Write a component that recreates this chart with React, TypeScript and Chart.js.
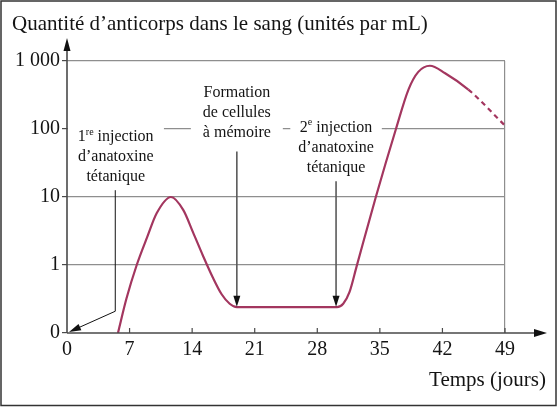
import React, { useEffect, useRef } from "react";
import { Chart, registerables } from "chart.js";

Chart.register(...registerables);

// ---- data (days, level on the axis: 0 -> "0", 1 -> "1", 2 -> "10", 3 -> "100", 4 -> "1 000")
const days = [5.7, 6.66, 7.8, 9.0, 10.03, 11.63, 13.0, 14.1, 15.2, 16.3, 17.3, 18.2, 19.0, 30.2, 30.9, 31.6, 32.4, 34.55, 36.8, 38.2, 39.3, 40.6, 42.3, 44.9, 49];
const levels = [0, 0.51, 1.0, 1.42, 1.76, 2.0, 1.81, 1.48, 1.14, 0.82, 0.57, 0.43, 0.38, 0.38, 0.43, 0.6, 0.98, 2.0, 3.0, 3.58, 3.84, 3.93, 3.82, 3.58, 3.05];
const dashFromDay = 44.9;

const xTicks = [0, 7, 14, 21, 28, 35, 42, 49];
const yTicks = [0, 1, 2, 3, 4];
const yLabels = ["0", "1", "10", "100", "1 000"];

const title = "Quantité d’anticorps dans le sang (unités par mL)";
const xTitle = "Temps (jours)";

const note1 = ["1^re^ injection", "d’anatoxine", "tétanique"];
const note2 = ["Formation", "de cellules", "à mémoire"];
const note3 = ["2^e^ injection", "d’anatoxine", "tétanique"];
// anchors in data space: [day of text centre, level of first line]
const note1Anchor = [5.45, 2.88];
const note2Anchor = [19.0, 3.53];
const note3Anchor = [30.1, 3.015];
// arrows: [day, level start, level end]
const arrow1 = [5.4, 2.1, 0.32];
const arrow2 = [19.0, 2.67, 0.4];
const arrow3 = [30.1, 2.23, 0.4];

const FONT = "'Liberation Serif', 'DejaVu Serif', serif";
const curveColor = "#a3365f";
const gridColor = "#8e8e8e";
const axisColor = "#4a4a4a";
const textColor = "#141414";

function drawRich(ctx: CanvasRenderingContext2D, line: string, cx: number, y: number, size: number) {
  const parts = line.split("^");
  const fonts = parts.map((_, i) => (i % 2 === 1 ? `${Math.round(size * 0.62)}px ${FONT}` : `${size}px ${FONT}`));
  let total = 0;
  const widths = parts.map((p, i) => {
    ctx.font = fonts[i];
    const w = ctx.measureText(p).width;
    total += w;
    return w;
  });
  let x = cx - total / 2;
  parts.forEach((p, i) => {
    ctx.font = fonts[i];
    ctx.fillText(p, x, i % 2 === 1 ? y - size * 0.33 : y);
    x += widths[i];
  });
  return total;
}

function arrowHead(ctx: CanvasRenderingContext2D, x1: number, y1: number, x2: number, y2: number, len: number, half: number) {
  const a = Math.atan2(y2 - y1, x2 - x1);
  ctx.beginPath();
  ctx.moveTo(x2, y2);
  ctx.lineTo(x2 - len * Math.cos(a) + half * Math.sin(a), y2 - len * Math.sin(a) - half * Math.cos(a));
  ctx.lineTo(x2 - len * Math.cos(a) - half * Math.sin(a), y2 - len * Math.sin(a) + half * Math.cos(a));
  ctx.closePath();
  ctx.fill();
}

const NOTE_SIZE = 16;
const NOTE_LH = 19.8;

const decorations = {
  id: "decorations",
  beforeDatasetsDraw(chart: any) {
    const { ctx, chartArea, scales } = chart;
    const xs = scales.x;
    const ys = scales.y;
    ctx.save();
    // white boxes behind notes (they interrupt grid lines)
    ctx.fillStyle = "#ffffff";
    [[note1, note1Anchor, 8], [note2, note2Anchor, 12], [note3, note3Anchor, 8]].forEach(([lines, anc, pad]: any) => {
      ctx.font = `${NOTE_SIZE}px ${FONT}`;
      let w = 0;
      lines.forEach((l: string) => {
        w = Math.max(w, ctx.measureText(l.replace(/\^/g, "")).width);
      });
      const cx = xs.getPixelForValue(anc[0]);
      const y0 = ys.getPixelForValue(anc[1]);
      const left = Math.max(chartArea.left + 1, cx - w / 2 - pad);
      ctx.fillRect(left, y0 - NOTE_LH / 2 - 2, cx + w / 2 + pad - left, NOTE_LH * lines.length + 2);
    });
    ctx.restore();
  },
  afterDraw(chart: any) {
    const { ctx, chartArea, scales, width, height } = chart;
    const xs = scales.x;
    const ys = scales.y;
    ctx.save();
    // outer frame
    ctx.strokeStyle = "#333333";
    ctx.lineWidth = 1.5;
    ctx.strokeRect(1, 1, width - 3, height - 2.5);

    // axes
    const ox = xs.getPixelForValue(0);
    const oy = ys.getPixelForValue(0);
    ctx.strokeStyle = axisColor;
    ctx.fillStyle = "#111111";
    ctx.lineWidth = 1.6;
    ctx.beginPath();
    ctx.moveTo(ox, oy);
    ctx.lineTo(chartArea.right + 32, oy);
    ctx.moveTo(ox, oy);
    ctx.lineTo(ox, chartArea.top - 14);
    ctx.stroke();
    arrowHead(ctx, ox, oy, chartArea.right + 42, oy, 13, 4);
    arrowHead(ctx, ox, oy, ox, chartArea.top - 23, 13, 3.5);
    // x tick marks (inside)
    ctx.lineWidth = 1.2;
    ctx.beginPath();
    xTicks.forEach((v) => {
      if (v === 0) return;
      const px = xs.getPixelForValue(v);
      ctx.moveTo(px, oy);
      ctx.lineTo(px, oy - 5);
    });
    ctx.stroke();

    // arrows
    const drawArrow = (a: number[], color: string, lw: number) => {
      const px = xs.getPixelForValue(a[0]);
      const y1 = ys.getPixelForValue(a[1]);
      const y2 = ys.getPixelForValue(a[2]);
      ctx.strokeStyle = color;
      ctx.fillStyle = "#111111";
      ctx.lineWidth = lw;
      ctx.beginPath();
      ctx.moveTo(px, y1);
      ctx.lineTo(px, y2 - 8);
      ctx.stroke();
      arrowHead(ctx, px, y1, px, y2 + 1, 11, 3.5);
    };
    drawArrow(arrow2, "#5a5a5a", 1.6);
    drawArrow(arrow3, "#5a5a5a", 1.6);
    // first arrow: vertical then diagonal to the origin
    {
      const px = xs.getPixelForValue(arrow1[0]);
      const y1 = ys.getPixelForValue(arrow1[1]);
      const y2 = ys.getPixelForValue(arrow1[2]);
      const tx = ox + 2;
      const ty = oy - 1;
      ctx.strokeStyle = "#111111";
      ctx.lineWidth = 1;
      ctx.beginPath();
      ctx.moveTo(px, y1);
      ctx.lineTo(px, y2);
      ctx.lineTo(tx + 8, ty - 3.6);
      ctx.stroke();
      arrowHead(ctx, px, y2, tx, ty, 12, 3.5);
    }

    // notes
    ctx.fillStyle = textColor;
    ctx.textBaseline = "middle";
    ctx.textAlign = "left";
    [[note1, note1Anchor], [note2, note2Anchor], [note3, note3Anchor]].forEach(([lines, anc]: any) => {
      const cx = xs.getPixelForValue(anc[0]);
      const y0 = ys.getPixelForValue(anc[1]);
      lines.forEach((l: string, i: number) => drawRich(ctx, l, cx, y0 + i * NOTE_LH, NOTE_SIZE));
    });

    // titles
    ctx.textBaseline = "alphabetic";
    ctx.font = `21px ${FONT}`;
    ctx.textAlign = "left";
    ctx.fillText(title, 12, 30);
    ctx.textAlign = "right";
    ctx.fillText(xTitle, chartArea.right + 41, 386);
    ctx.restore();
  },
};

export default function App() {
  const ref = useRef<HTMLCanvasElement | null>(null);
  useEffect(() => {
    if (!ref.current) return;
    const chart = new Chart(ref.current, {
      type: "line",
      data: {
        datasets: [
          {
            data: days.map((d, i) => ({ x: d, y: levels[i] })),
            borderColor: curveColor,
            borderWidth: 2.2,
            pointRadius: 0,
            fill: false,
            cubicInterpolationMode: "monotone",
            segment: {
              borderDash: (c: any) => (c.p0.parsed.x >= dashFromDay ? [5, 4] : undefined),
            },
          } as any,
        ],
      },
      options: {
        responsive: false,
        animation: false,
        events: [],
        layout: { padding: { left: 0, top: 61, right: 53, bottom: 44 } },
        plugins: { legend: { display: false }, tooltip: { enabled: false }, title: { display: false } },
        scales: {
          x: {
            type: "linear",
            min: 0,
            max: 49,
            afterBuildTicks: (s: any) => {
              s.ticks = xTicks.map((v) => ({ value: v }));
            },
            afterFit: (s: any) => {
              s.height = 30;
            },
            grid: {
              color: (c: any) => (c.tick && c.tick.value === 49 ? gridColor : "transparent"),
              drawTicks: false,
              lineWidth: 1.2,
            },
            border: { display: false },
            ticks: { font: { family: FONT, size: 20 }, color: textColor, padding: 5, maxRotation: 0, autoSkip: false },
          },
          y: {
            type: "linear",
            min: 0,
            max: 4,
            afterBuildTicks: (s: any) => {
              s.ticks = yTicks.map((v) => ({ value: v }));
            },
            afterFit: (s: any) => {
              s.width = 67;
            },
            grid: {
              color: (c: any) => (c.tick && c.tick.value === 0 ? "transparent" : gridColor),
              tickColor: axisColor,
              tickLength: 5,
              drawTicks: true,
              lineWidth: 1.2,
            },
            border: { display: false },
            ticks: {
              font: { family: FONT, size: 20 },
              color: textColor,
              padding: 2,
              callback: (v: any) => yLabels[yTicks.indexOf(Number(v))],
            },
          },
        },
      } as any,
      plugins: [decorations],
    });
    return () => chart.destroy();
  }, []);
  return (
    <div style={{ position: "absolute", left: 0, top: 0, width: 558, height: 407, background: "#fff" }}>
      <canvas ref={ref} width={558} height={407} style={{ display: "block", width: 558, height: 407 }} />
    </div>
  );
}
